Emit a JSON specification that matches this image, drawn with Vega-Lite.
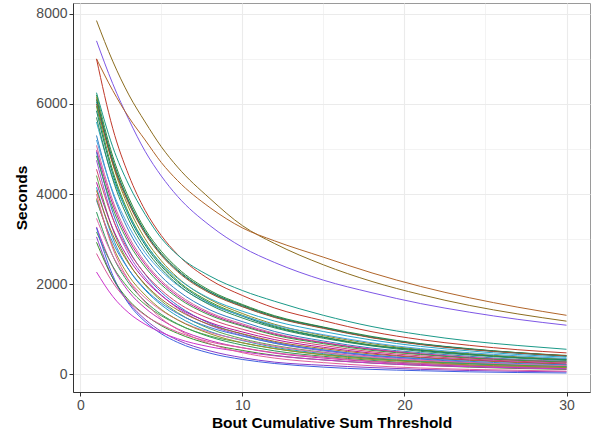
{
  "$schema": "https://vega.github.io/schema/vega-lite/v6.json",
  "autosize": {"type": "none"},
  "padding": {"left": 73, "top": 3, "right": 8, "bottom": 41},
  "width": 517,
  "height": 389,
  "background": "white",
  "config": {
    "view": {"stroke": "#9A9A9A", "strokeWidth": 1},
    "font": "Liberation Sans"
  },
  "data": {"values": [
    {"g":"g01","x":1,"y":7850},{"g":"g01","x":2,"y":6950},{"g":"g01","x":3,"y":6200},{"g":"g01","x":4,"y":5600},{"g":"g01","x":5,"y":5050},{"g":"g01","x":6,"y":4600},{"g":"g01","x":8,"y":3900},{"g":"g01","x":10,"y":3300},{"g":"g01","x":12,"y":2900},{"g":"g01","x":15,"y":2430},{"g":"g01","x":18,"y":2060},{"g":"g01","x":21,"y":1770},{"g":"g01","x":24,"y":1530},{"g":"g01","x":27,"y":1340},{"g":"g01","x":30,"y":1180},
    {"g":"g02","x":1,"y":7400},{"g":"g02","x":2,"y":6450},{"g":"g02","x":3,"y":5650},{"g":"g02","x":4,"y":4950},{"g":"g02","x":5,"y":4400},{"g":"g02","x":6,"y":3950},{"g":"g02","x":8,"y":3300},{"g":"g02","x":10,"y":2820},{"g":"g02","x":12,"y":2480},{"g":"g02","x":15,"y":2090},{"g":"g02","x":18,"y":1810},{"g":"g02","x":21,"y":1570},{"g":"g02","x":24,"y":1380},{"g":"g02","x":27,"y":1220},{"g":"g02","x":30,"y":1090},
    {"g":"g03","x":1,"y":7000},{"g":"g03","x":2,"y":6300},{"g":"g03","x":3,"y":5700},{"g":"g03","x":4,"y":5200},{"g":"g03","x":5,"y":4700},{"g":"g03","x":6,"y":4300},{"g":"g03","x":8,"y":3700},{"g":"g03","x":10,"y":3250},{"g":"g03","x":12,"y":2960},{"g":"g03","x":15,"y":2600},{"g":"g03","x":18,"y":2250},{"g":"g03","x":21,"y":1950},{"g":"g03","x":24,"y":1700},{"g":"g03","x":27,"y":1490},{"g":"g03","x":30,"y":1310},
    {"g":"g04","x":1,"y":7000},{"g":"g04","x":2,"y":5460},{"g":"g04","x":3,"y":4410},{"g":"g04","x":4,"y":3640},{"g":"g04","x":5,"y":3080},{"g":"g04","x":6,"y":2660},{"g":"g04","x":8,"y":2100},{"g":"g04","x":10,"y":1750},{"g":"g04","x":12,"y":1470},{"g":"g04","x":15,"y":1190},{"g":"g04","x":18,"y":945},{"g":"g04","x":21,"y":770},{"g":"g04","x":24,"y":644},{"g":"g04","x":27,"y":546},{"g":"g04","x":30,"y":476},
    {"g":"g05","x":1,"y":6250},{"g":"g05","x":2,"y":5050},{"g":"g05","x":3,"y":4200},{"g":"g05","x":4,"y":3550},{"g":"g05","x":5,"y":3020},{"g":"g05","x":6,"y":2650},{"g":"g05","x":8,"y":2180},{"g":"g05","x":10,"y":1860},{"g":"g05","x":12,"y":1620},{"g":"g05","x":15,"y":1310},{"g":"g05","x":18,"y":1060},{"g":"g05","x":21,"y":880},{"g":"g05","x":24,"y":740},{"g":"g05","x":27,"y":640},{"g":"g05","x":30,"y":556},
    {"g":"g06","x":1,"y":6200},{"g":"g06","x":2,"y":4840},{"g":"g06","x":3,"y":3910},{"g":"g06","x":4,"y":3220},{"g":"g06","x":5,"y":2730},{"g":"g06","x":6,"y":2360},{"g":"g06","x":8,"y":1860},{"g":"g06","x":10,"y":1550},{"g":"g06","x":12,"y":1300},{"g":"g06","x":15,"y":1050},{"g":"g06","x":18,"y":840},{"g":"g06","x":21,"y":680},{"g":"g06","x":24,"y":570},{"g":"g06","x":27,"y":480},{"g":"g06","x":30,"y":420},
    {"g":"g07","x":1,"y":6150},{"g":"g07","x":2,"y":4670},{"g":"g07","x":3,"y":3690},{"g":"g07","x":4,"y":3010},{"g":"g07","x":5,"y":2520},{"g":"g07","x":6,"y":2150},{"g":"g07","x":8,"y":1660},{"g":"g07","x":10,"y":1350},{"g":"g07","x":12,"y":1110},{"g":"g07","x":15,"y":860},{"g":"g07","x":18,"y":680},{"g":"g07","x":21,"y":550},{"g":"g07","x":24,"y":460},{"g":"g07","x":27,"y":390},{"g":"g07","x":30,"y":340},
    {"g":"g08","x":1,"y":6100},{"g":"g08","x":2,"y":4760},{"g":"g08","x":3,"y":3840},{"g":"g08","x":4,"y":3170},{"g":"g08","x":5,"y":2680},{"g":"g08","x":6,"y":2320},{"g":"g08","x":8,"y":1830},{"g":"g08","x":10,"y":1530},{"g":"g08","x":12,"y":1280},{"g":"g08","x":15,"y":1040},{"g":"g08","x":18,"y":820},{"g":"g08","x":21,"y":670},{"g":"g08","x":24,"y":560},{"g":"g08","x":27,"y":480},{"g":"g08","x":30,"y":410},
    {"g":"g09","x":1,"y":6050},{"g":"g09","x":2,"y":4720},{"g":"g09","x":3,"y":3810},{"g":"g09","x":4,"y":3150},{"g":"g09","x":5,"y":2660},{"g":"g09","x":6,"y":2300},{"g":"g09","x":8,"y":1820},{"g":"g09","x":10,"y":1510},{"g":"g09","x":12,"y":1270},{"g":"g09","x":15,"y":1030},{"g":"g09","x":18,"y":820},{"g":"g09","x":21,"y":670},{"g":"g09","x":24,"y":560},{"g":"g09","x":27,"y":470},{"g":"g09","x":30,"y":400},
    {"g":"g10","x":1,"y":6000},{"g":"g10","x":2,"y":4680},{"g":"g10","x":3,"y":3780},{"g":"g10","x":4,"y":3120},{"g":"g10","x":5,"y":2640},{"g":"g10","x":6,"y":2280},{"g":"g10","x":8,"y":1800},{"g":"g10","x":10,"y":1500},{"g":"g10","x":12,"y":1260},{"g":"g10","x":15,"y":1020},{"g":"g10","x":18,"y":810},{"g":"g10","x":21,"y":660},{"g":"g10","x":24,"y":550},{"g":"g10","x":27,"y":470},{"g":"g10","x":30,"y":410},
    {"g":"g11","x":1,"y":5950},{"g":"g11","x":2,"y":4520},{"g":"g11","x":3,"y":3570},{"g":"g11","x":4,"y":2920},{"g":"g11","x":5,"y":2440},{"g":"g11","x":6,"y":2080},{"g":"g11","x":8,"y":1610},{"g":"g11","x":10,"y":1310},{"g":"g11","x":12,"y":1070},{"g":"g11","x":15,"y":830},{"g":"g11","x":18,"y":650},{"g":"g11","x":21,"y":540},{"g":"g11","x":24,"y":450},{"g":"g11","x":27,"y":370},{"g":"g11","x":30,"y":330},
    {"g":"g12","x":1,"y":5850},{"g":"g12","x":2,"y":4450},{"g":"g12","x":3,"y":3510},{"g":"g12","x":4,"y":2870},{"g":"g12","x":5,"y":2400},{"g":"g12","x":6,"y":2050},{"g":"g12","x":8,"y":1580},{"g":"g12","x":10,"y":1290},{"g":"g12","x":12,"y":1050},{"g":"g12","x":15,"y":820},{"g":"g12","x":18,"y":640},{"g":"g12","x":21,"y":530},{"g":"g12","x":24,"y":440},{"g":"g12","x":27,"y":370},{"g":"g12","x":30,"y":320},
    {"g":"g13","x":1,"y":5600},{"g":"g13","x":2,"y":4370},{"g":"g13","x":3,"y":3530},{"g":"g13","x":4,"y":2910},{"g":"g13","x":5,"y":2460},{"g":"g13","x":6,"y":2130},{"g":"g13","x":8,"y":1680},{"g":"g13","x":10,"y":1400},{"g":"g13","x":12,"y":1180},{"g":"g13","x":15,"y":950},{"g":"g13","x":18,"y":760},{"g":"g13","x":21,"y":620},{"g":"g13","x":24,"y":520},{"g":"g13","x":27,"y":440},{"g":"g13","x":30,"y":380},
    {"g":"g14","x":1,"y":5300},{"g":"g14","x":2,"y":4030},{"g":"g14","x":3,"y":3180},{"g":"g14","x":4,"y":2600},{"g":"g14","x":5,"y":2170},{"g":"g14","x":6,"y":1860},{"g":"g14","x":8,"y":1430},{"g":"g14","x":10,"y":1170},{"g":"g14","x":12,"y":950},{"g":"g14","x":15,"y":740},{"g":"g14","x":18,"y":580},{"g":"g14","x":21,"y":480},{"g":"g14","x":24,"y":400},{"g":"g14","x":27,"y":330},{"g":"g14","x":30,"y":290},
    {"g":"g15","x":1,"y":5200},{"g":"g15","x":2,"y":4060},{"g":"g15","x":3,"y":3280},{"g":"g15","x":4,"y":2700},{"g":"g15","x":5,"y":2290},{"g":"g15","x":6,"y":1980},{"g":"g15","x":8,"y":1560},{"g":"g15","x":10,"y":1300},{"g":"g15","x":12,"y":1090},{"g":"g15","x":15,"y":880},{"g":"g15","x":18,"y":700},{"g":"g15","x":21,"y":570},{"g":"g15","x":24,"y":480},{"g":"g15","x":27,"y":410},{"g":"g15","x":30,"y":350},
    {"g":"g16","x":1,"y":5080},{"g":"g16","x":2,"y":3860},{"g":"g16","x":3,"y":3050},{"g":"g16","x":4,"y":2490},{"g":"g16","x":5,"y":2080},{"g":"g16","x":6,"y":1780},{"g":"g16","x":8,"y":1370},{"g":"g16","x":10,"y":1120},{"g":"g16","x":12,"y":910},{"g":"g16","x":15,"y":710},{"g":"g16","x":18,"y":560},{"g":"g16","x":21,"y":460},{"g":"g16","x":24,"y":380},{"g":"g16","x":27,"y":320},{"g":"g16","x":30,"y":280},
    {"g":"g17","x":1,"y":4970},{"g":"g17","x":2,"y":3780},{"g":"g17","x":3,"y":2980},{"g":"g17","x":4,"y":2440},{"g":"g17","x":5,"y":2040},{"g":"g17","x":6,"y":1740},{"g":"g17","x":8,"y":1340},{"g":"g17","x":10,"y":1090},{"g":"g17","x":12,"y":890},{"g":"g17","x":15,"y":700},{"g":"g17","x":18,"y":550},{"g":"g17","x":21,"y":450},{"g":"g17","x":24,"y":370},{"g":"g17","x":27,"y":310},{"g":"g17","x":30,"y":270},
    {"g":"g18","x":1,"y":4930},{"g":"g18","x":2,"y":3600},{"g":"g18","x":3,"y":2760},{"g":"g18","x":4,"y":2220},{"g":"g18","x":5,"y":1820},{"g":"g18","x":6,"y":1530},{"g":"g18","x":8,"y":1130},{"g":"g18","x":10,"y":890},{"g":"g18","x":12,"y":710},{"g":"g18","x":15,"y":540},{"g":"g18","x":18,"y":420},{"g":"g18","x":21,"y":340},{"g":"g18","x":24,"y":270},{"g":"g18","x":27,"y":220},{"g":"g18","x":30,"y":190},
    {"g":"g19","x":1,"y":4850},{"g":"g19","x":2,"y":3690},{"g":"g19","x":3,"y":2910},{"g":"g19","x":4,"y":2380},{"g":"g19","x":5,"y":1990},{"g":"g19","x":6,"y":1700},{"g":"g19","x":8,"y":1310},{"g":"g19","x":10,"y":1070},{"g":"g19","x":12,"y":870},{"g":"g19","x":15,"y":680},{"g":"g19","x":18,"y":530},{"g":"g19","x":21,"y":440},{"g":"g19","x":24,"y":360},{"g":"g19","x":27,"y":310},{"g":"g19","x":30,"y":270},
    {"g":"g20","x":1,"y":4750},{"g":"g20","x":2,"y":3470},{"g":"g20","x":3,"y":2660},{"g":"g20","x":4,"y":2140},{"g":"g20","x":5,"y":1760},{"g":"g20","x":6,"y":1470},{"g":"g20","x":8,"y":1090},{"g":"g20","x":10,"y":860},{"g":"g20","x":12,"y":690},{"g":"g20","x":15,"y":520},{"g":"g20","x":18,"y":400},{"g":"g20","x":21,"y":320},{"g":"g20","x":24,"y":260},{"g":"g20","x":27,"y":210},{"g":"g20","x":30,"y":180},
    {"g":"g21","x":1,"y":4550},{"g":"g21","x":2,"y":3460},{"g":"g21","x":3,"y":2730},{"g":"g21","x":4,"y":2230},{"g":"g21","x":5,"y":1870},{"g":"g21","x":6,"y":1590},{"g":"g21","x":8,"y":1230},{"g":"g21","x":10,"y":1000},{"g":"g21","x":12,"y":820},{"g":"g21","x":15,"y":640},{"g":"g21","x":18,"y":500},{"g":"g21","x":21,"y":410},{"g":"g21","x":24,"y":340},{"g":"g21","x":27,"y":290},{"g":"g21","x":30,"y":250},
    {"g":"g22","x":1,"y":4410},{"g":"g22","x":2,"y":3220},{"g":"g22","x":3,"y":2470},{"g":"g22","x":4,"y":1980},{"g":"g22","x":5,"y":1630},{"g":"g22","x":6,"y":1370},{"g":"g22","x":8,"y":1010},{"g":"g22","x":10,"y":790},{"g":"g22","x":12,"y":640},{"g":"g22","x":15,"y":490},{"g":"g22","x":18,"y":370},{"g":"g22","x":21,"y":300},{"g":"g22","x":24,"y":240},{"g":"g22","x":27,"y":200},{"g":"g22","x":30,"y":170},
    {"g":"g23","x":1,"y":4260},{"g":"g23","x":2,"y":3240},{"g":"g23","x":3,"y":2560},{"g":"g23","x":4,"y":2090},{"g":"g23","x":5,"y":1750},{"g":"g23","x":6,"y":1490},{"g":"g23","x":8,"y":1150},{"g":"g23","x":10,"y":940},{"g":"g23","x":12,"y":770},{"g":"g23","x":15,"y":600},{"g":"g23","x":18,"y":470},{"g":"g23","x":21,"y":380},{"g":"g23","x":24,"y":320},{"g":"g23","x":27,"y":270},{"g":"g23","x":30,"y":230},
    {"g":"g24","x":1,"y":4150},{"g":"g24","x":2,"y":3030},{"g":"g24","x":3,"y":2320},{"g":"g24","x":4,"y":1870},{"g":"g24","x":5,"y":1540},{"g":"g24","x":6,"y":1290},{"g":"g24","x":8,"y":950},{"g":"g24","x":10,"y":750},{"g":"g24","x":12,"y":600},{"g":"g24","x":15,"y":460},{"g":"g24","x":18,"y":350},{"g":"g24","x":21,"y":280},{"g":"g24","x":24,"y":230},{"g":"g24","x":27,"y":190},{"g":"g24","x":30,"y":160},
    {"g":"g25","x":1,"y":4080},{"g":"g25","x":2,"y":3100},{"g":"g25","x":3,"y":2450},{"g":"g25","x":4,"y":2000},{"g":"g25","x":5,"y":1670},{"g":"g25","x":6,"y":1430},{"g":"g25","x":8,"y":1100},{"g":"g25","x":10,"y":900},{"g":"g25","x":12,"y":730},{"g":"g25","x":15,"y":570},{"g":"g25","x":18,"y":450},{"g":"g25","x":21,"y":370},{"g":"g25","x":24,"y":310},{"g":"g25","x":27,"y":260},{"g":"g25","x":30,"y":220},
    {"g":"g26","x":1,"y":3860},{"g":"g26","x":2,"y":2930},{"g":"g26","x":3,"y":2320},{"g":"g26","x":4,"y":1890},{"g":"g26","x":5,"y":1580},{"g":"g26","x":6,"y":1350},{"g":"g26","x":8,"y":1040},{"g":"g26","x":10,"y":850},{"g":"g26","x":12,"y":690},{"g":"g26","x":15,"y":540},{"g":"g26","x":18,"y":420},{"g":"g26","x":21,"y":350},{"g":"g26","x":24,"y":290},{"g":"g26","x":27,"y":240},{"g":"g26","x":30,"y":210},
    {"g":"g27","x":1,"y":3600},{"g":"g27","x":2,"y":2630},{"g":"g27","x":3,"y":2020},{"g":"g27","x":4,"y":1620},{"g":"g27","x":5,"y":1330},{"g":"g27","x":6,"y":1120},{"g":"g27","x":8,"y":830},{"g":"g27","x":10,"y":650},{"g":"g27","x":12,"y":520},{"g":"g27","x":15,"y":400},{"g":"g27","x":18,"y":310},{"g":"g27","x":21,"y":240},{"g":"g27","x":24,"y":200},{"g":"g27","x":27,"y":160},{"g":"g27","x":30,"y":140},
    {"g":"g28","x":1,"y":3460},{"g":"g28","x":2,"y":2630},{"g":"g28","x":3,"y":2080},{"g":"g28","x":4,"y":1700},{"g":"g28","x":5,"y":1420},{"g":"g28","x":6,"y":1210},{"g":"g28","x":8,"y":930},{"g":"g28","x":10,"y":760},{"g":"g28","x":12,"y":620},{"g":"g28","x":15,"y":480},{"g":"g28","x":18,"y":380},{"g":"g28","x":21,"y":310},{"g":"g28","x":24,"y":260},{"g":"g28","x":27,"y":220},{"g":"g28","x":30,"y":190},
    {"g":"g29","x":1,"y":3270},{"g":"g29","x":2,"y":2390},{"g":"g29","x":3,"y":1830},{"g":"g29","x":4,"y":1470},{"g":"g29","x":5,"y":1210},{"g":"g29","x":6,"y":1010},{"g":"g29","x":8,"y":750},{"g":"g29","x":10,"y":590},{"g":"g29","x":12,"y":470},{"g":"g29","x":15,"y":360},{"g":"g29","x":18,"y":280},{"g":"g29","x":21,"y":220},{"g":"g29","x":24,"y":180},{"g":"g29","x":27,"y":150},{"g":"g29","x":30,"y":120},
    {"g":"g30","x":1,"y":3160},{"g":"g30","x":2,"y":2400},{"g":"g30","x":3,"y":1900},{"g":"g30","x":4,"y":1550},{"g":"g30","x":5,"y":1300},{"g":"g30","x":6,"y":1110},{"g":"g30","x":8,"y":850},{"g":"g30","x":10,"y":700},{"g":"g30","x":12,"y":570},{"g":"g30","x":15,"y":440},{"g":"g30","x":18,"y":350},{"g":"g30","x":21,"y":280},{"g":"g30","x":24,"y":240},{"g":"g30","x":27,"y":200},{"g":"g30","x":30,"y":170},
    {"g":"g31","x":1,"y":3050},{"g":"g31","x":2,"y":2140},{"g":"g31","x":3,"y":1590},{"g":"g31","x":4,"y":1220},{"g":"g31","x":5,"y":950},{"g":"g31","x":6,"y":760},{"g":"g31","x":8,"y":520},{"g":"g31","x":10,"y":370},{"g":"g31","x":12,"y":270},{"g":"g31","x":15,"y":200},{"g":"g31","x":18,"y":150},{"g":"g31","x":21,"y":110},{"g":"g31","x":24,"y":85},{"g":"g31","x":27,"y":67},{"g":"g31","x":30,"y":55},
    {"g":"g32","x":1,"y":3250},{"g":"g32","x":2,"y":2200},{"g":"g32","x":3,"y":1560},{"g":"g32","x":4,"y":1170},{"g":"g32","x":5,"y":900},{"g":"g32","x":6,"y":710},{"g":"g32","x":8,"y":470},{"g":"g32","x":10,"y":330},{"g":"g32","x":12,"y":240},{"g":"g32","x":15,"y":160},{"g":"g32","x":18,"y":110},{"g":"g32","x":21,"y":80},{"g":"g32","x":24,"y":55},{"g":"g32","x":27,"y":40},{"g":"g32","x":30,"y":30},
    {"g":"g33","x":1,"y":2930},{"g":"g33","x":2,"y":2140},{"g":"g33","x":3,"y":1640},{"g":"g33","x":4,"y":1320},{"g":"g33","x":5,"y":1080},{"g":"g33","x":6,"y":910},{"g":"g33","x":8,"y":670},{"g":"g33","x":10,"y":530},{"g":"g33","x":12,"y":420},{"g":"g33","x":15,"y":320},{"g":"g33","x":18,"y":250},{"g":"g33","x":21,"y":200},{"g":"g33","x":24,"y":160},{"g":"g33","x":27,"y":130},{"g":"g33","x":30,"y":110},
    {"g":"g34","x":1,"y":2680},{"g":"g34","x":2,"y":2040},{"g":"g34","x":3,"y":1610},{"g":"g34","x":4,"y":1310},{"g":"g34","x":5,"y":1100},{"g":"g34","x":6,"y":940},{"g":"g34","x":8,"y":720},{"g":"g34","x":10,"y":590},{"g":"g34","x":12,"y":480},{"g":"g34","x":15,"y":380},{"g":"g34","x":18,"y":290},{"g":"g34","x":21,"y":240},{"g":"g34","x":24,"y":200},{"g":"g34","x":27,"y":170},{"g":"g34","x":30,"y":150},
    {"g":"g35","x":1,"y":2270},{"g":"g35","x":2,"y":1730},{"g":"g35","x":3,"y":1360},{"g":"g35","x":4,"y":1110},{"g":"g35","x":5,"y":930},{"g":"g35","x":6,"y":790},{"g":"g35","x":8,"y":610},{"g":"g35","x":10,"y":500},{"g":"g35","x":12,"y":410},{"g":"g35","x":15,"y":320},{"g":"g35","x":18,"y":250},{"g":"g35","x":21,"y":200},{"g":"g35","x":24,"y":170},{"g":"g35","x":27,"y":140},{"g":"g35","x":30,"y":120},
    {"g":"g36","x":1,"y":3900},{"g":"g36","x":2,"y":2850},{"g":"g36","x":3,"y":2180},{"g":"g36","x":4,"y":1760},{"g":"g36","x":5,"y":1440},{"g":"g36","x":6,"y":1210},{"g":"g36","x":8,"y":900},{"g":"g36","x":10,"y":700},{"g":"g36","x":12,"y":570},{"g":"g36","x":15,"y":430},{"g":"g36","x":18,"y":330},{"g":"g36","x":21,"y":270},{"g":"g36","x":24,"y":210},{"g":"g36","x":27,"y":180},{"g":"g36","x":30,"y":150},
    {"g":"g37","x":1,"y":5700},{"g":"g37","x":2,"y":4330},{"g":"g37","x":3,"y":3420},{"g":"g37","x":4,"y":2790},{"g":"g37","x":5,"y":2340},{"g":"g37","x":6,"y":2000},{"g":"g37","x":8,"y":1540},{"g":"g37","x":10,"y":1250},{"g":"g37","x":12,"y":1030},{"g":"g37","x":15,"y":800},{"g":"g37","x":18,"y":630},{"g":"g37","x":21,"y":510},{"g":"g37","x":24,"y":430},{"g":"g37","x":27,"y":360},{"g":"g37","x":30,"y":310},
    {"g":"g38","x":1,"y":4000},{"g":"g38","x":2,"y":2800},{"g":"g38","x":3,"y":2080},{"g":"g38","x":4,"y":1600},{"g":"g38","x":5,"y":1240},{"g":"g38","x":6,"y":1000},{"g":"g38","x":8,"y":680},{"g":"g38","x":10,"y":480},{"g":"g38","x":12,"y":360},{"g":"g38","x":15,"y":260},{"g":"g38","x":18,"y":190},{"g":"g38","x":21,"y":140},{"g":"g38","x":24,"y":110},{"g":"g38","x":27,"y":90},{"g":"g38","x":30,"y":70}
  ]},
  "mark": {"type": "line", "strokeWidth": 1, "interpolate": "monotone", "clip": true},
  "encoding": {
    "x": {
      "field": "x", "type": "quantitative",
      "scale": {"domain": [-0.45, 31.45], "nice": false, "zero": false},
      "axis": {
        "title": "Bout Cumulative Sum Threshold",
        "values": [0, 5, 10, 15, 20, 25, 30],
        "labelExpr": "datum.value % 10 === 0 ? datum.label : ''",
        "format": "d",
        "grid": true,
        "gridColor": "#EBEBEB",
        "gridWidth": {"condition": {"test": "datum.value % 10 === 0", "value": 1.1}, "value": 0.6},
        "domainColor": "#333333",
        "domainWidth": 1,
        "tickColor": "#333333",
        "tickOpacity": {"condition": {"test": "datum.value % 10 === 0", "value": 1}, "value": 0},
        "tickSize": 4,
        "labelColor": "#4D4D4D",
        "labelFont": "Liberation Sans",
        "labelFontSize": 14,
        "labelPadding": 2,
        "titleFont": "Liberation Sans",
        "titleFontSize": 15.5,
        "titleFontWeight": "bold",
        "titleColor": "#000000",
        "titlePadding": 3
      }
    },
    "y": {
      "field": "y", "type": "quantitative",
      "scale": {"domain": [-392, 8240], "nice": false, "zero": false},
      "axis": {
        "title": "Seconds",
        "values": [0, 1000, 2000, 3000, 4000, 5000, 6000, 7000, 8000],
        "labelExpr": "datum.value % 2000 === 0 ? datum.label : ''",
        "format": "d",
        "grid": true,
        "gridColor": "#EBEBEB",
        "gridWidth": {"condition": {"test": "datum.value % 2000 === 0", "value": 1.1}, "value": 0.6},
        "domainColor": "#333333",
        "domainWidth": 1,
        "tickColor": "#333333",
        "tickOpacity": {"condition": {"test": "datum.value % 2000 === 0", "value": 1}, "value": 0},
        "tickSize": 4,
        "labelColor": "#4D4D4D",
        "labelFont": "Liberation Sans",
        "labelFontSize": 14,
        "labelPadding": 2,
        "titleFont": "Liberation Sans",
        "titleFontSize": 15.5,
        "titleFontWeight": "bold",
        "titleColor": "#000000",
        "titlePadding": 6
      }
    },
    "detail": {"field": "g", "type": "nominal"},
    "color": {
      "field": "g", "type": "nominal", "legend": null,
      "scale": {
        "domain": ["g01","g02","g03","g04","g05","g06","g07","g08","g09","g10","g11","g12","g13","g14","g15","g16","g17","g18","g19","g20","g21","g22","g23","g24","g25","g26","g27","g28","g29","g30","g31","g32","g33","g34","g35","g36","g37","g38"],
        "range": ["#8C6D1F","#7E57E6","#B0652A","#C0392B","#1A9988","#2E8B3E","#8E8B2A","#1E6E3A","#138A8A","#A0522D","#4C9A2A","#0E7C6B","#2AA7C9","#2F7FC1","#4AA3DF","#D26A9C","#C21E9A","#3C6FD1","#3D9B45","#9B4FD3","#D0456F","#5FA34A","#B5179E","#1F9FBF","#A86A2A","#3A7DD8","#2E9B5C","#E06AA8","#C02FB8","#4AA04A","#8A3CC8","#4060E0","#3B8E2E","#D9589A","#CC33CC","#9A8C2A","#2E8B57","#E0609A"]
      }
    }
  }
}
